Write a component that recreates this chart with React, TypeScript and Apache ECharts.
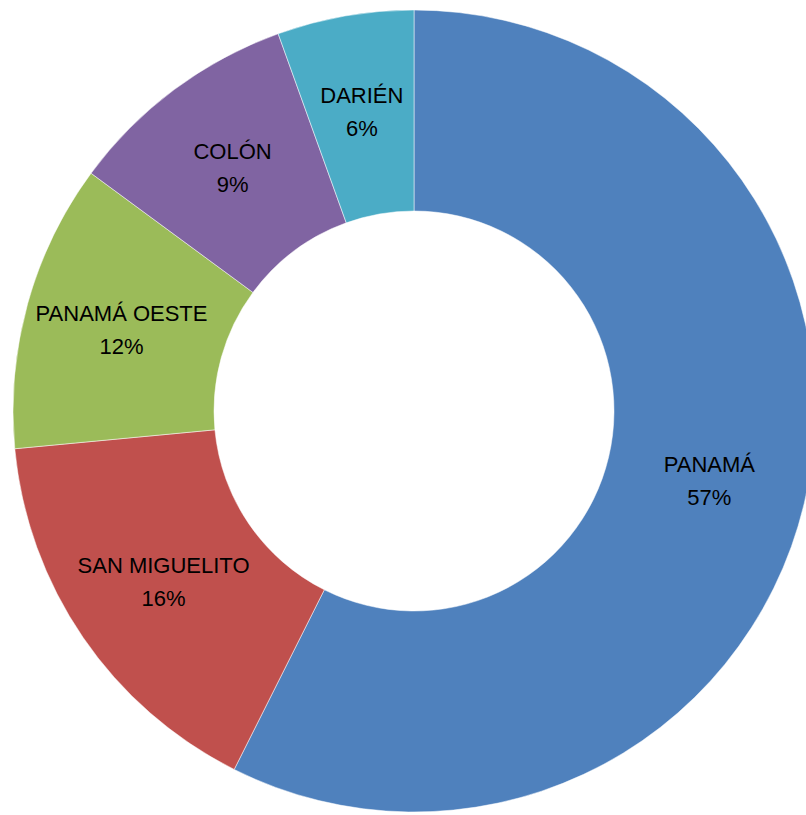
import React, { useEffect, useRef } from "react";
import * as echarts from "echarts";

const categories = ["PANAMÁ", "SAN MIGUELITO", "PANAMÁ OESTE", "COLÓN", "DARIÉN"];
const values = [57.4, 16.1, 11.6, 9.4, 5.5];
const colors = ["#4F81BD", "#C0504D", "#9BBB59", "#8064A2", "#4BACC6"];

export default function App() {
  const ref = useRef<HTMLDivElement>(null);
  useEffect(() => {
    if (!ref.current) return;
    const chart = echarts.init(ref.current, null, { renderer: "svg" });
    const total = values.reduce((a, b) => a + b, 0);
    chart.setOption({
      animation: false,
      backgroundColor: "#ffffff",
      series: [
        {
          type: "pie",
          center: [414, 411],
          radius: [200, 401],
          startAngle: 90,
          clockwise: true,
          avoidLabelOverlap: false,
          itemStyle: { borderColor: "#ffffff", borderWidth: 0.5 },
          label: {
            show: true,
            position: "inside",
            color: "#000000",
            fontFamily: "Liberation Sans",
            fontSize: 22,
            lineHeight: 33,
            formatter: (p: any) => `${p.name}\n${Math.round((p.value / total) * 100)}%`,
          },
          labelLine: { show: false },
          emphasis: { disabled: true },
          data: categories.map((name, i) => ({
            name,
            value: values[i],
            itemStyle: { color: colors[i] },
          })),
        },
      ],
    });
    return () => chart.dispose();
  }, []);
  return (
    <div
      ref={ref}
      style={{ position: "absolute", left: 0, top: 0, width: 806, height: 815 }}
    />
  );
}
